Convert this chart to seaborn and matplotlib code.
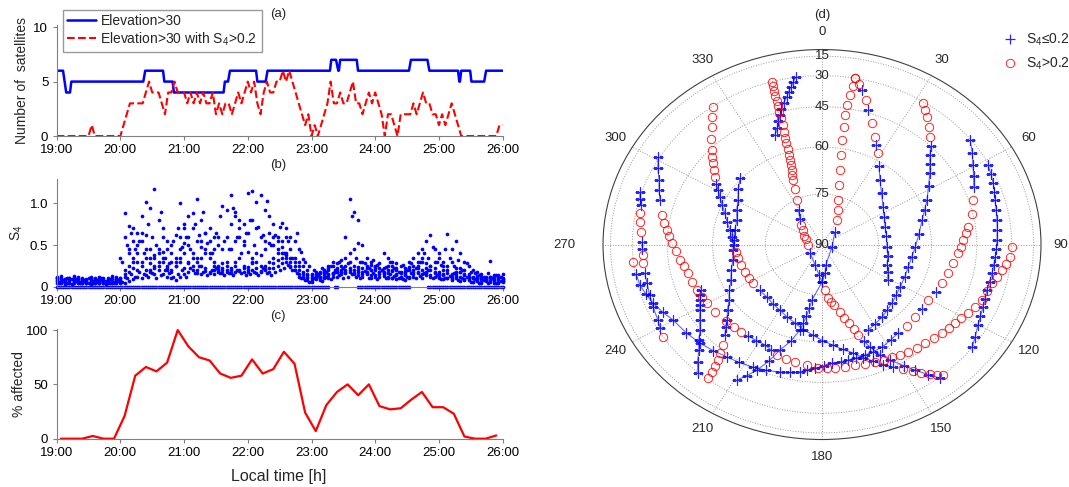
import numpy as np
import pandas as pd
import matplotlib
matplotlib.use("Agg")
import matplotlib.pyplot as plt
import seaborn as sns

sns.set_theme(style="ticks")
plt.rcParams['font.family'] = ['Liberation Sans', 'DejaVu Sans']
plt.rcParams['mathtext.fontset'] = 'custom'
plt.rcParams['mathtext.rm'] = 'Liberation Sans'
plt.rcParams['mathtext.it'] = 'Liberation Sans:italic'
plt.rcParams['mathtext.bf'] = 'Liberation Sans:bold'

BLUE = '#0000ff'
RED = '#ff0000'
nan = np.nan

# --- (a) number of satellites ---
el30_t = [19.00, 19.10, 19.15, 19.21, 19.23, 20.36, 20.39, 20.67, 20.69, 20.82,
          20.84, 21.62, 21.64, 21.69, 21.72, 22.13, 22.15, 22.28, 22.31, 23.29,
          23.31, 23.385, 23.42, 23.43, 23.45, 23.71, 23.73, 24.53, 24.56, 24.82,
          24.85, 25.30, 25.32, 25.33, 25.35, 25.49, 25.51, 25.71, 25.74, 26.00]
el30_n = [6, 6, 4, 4, 5, 5, 6, 6, 5, 5, 4, 4, 5, 5, 6, 6, 5, 5, 6, 6,
          7, 7, 6, 6, 7, 7, 6, 6, 7, 7, 6, 6, 5, 5, 6, 6, 5, 5, 6, 6]

# 3-minute samples from 19:00
s4hi_n = [0, 0, 0, 0, 0, 0, 0, 0, 0, 0,
          0, 1, 0, 0, 0, 0, 0, 0, 0, 0,
          0, 1, 2, 3, 3, 3, 3, 3, 4, 5,
          4, 4, 4, 3, 2, 4, 4, 5, 4, 4,
          4, 3, 4, 3, 4, 3, 4, 3, 3, 4,
          2, 3, 2, 3, 3, 2, 3, 4, 3, 4,
          5, 4, 5, 3, 2, 4, 5, 4, 4, 5,
          5, 6, 5, 6, 5, 4, 3, 2, 1, 2,
          0, 1, 0, 1, 2, 3, 5, 3, 3, 4,
          3, 3, 4, 5, 3, 3, 2, 3, 4, 3,
          4, 3, 2, 0, 2, 2, 1, 0, 2, 2,
          2, 2, 3, 2, 3, 4, 3, 3, 2, 2,
          1, 2, 1, 2, 3, 2, 1, 0, 0, 0,
          0, 0, 0, 0, 0, 0, 0, 0, 0, 1, 1]
s4hi_t = 19 + np.arange(len(s4hi_n)) * 3 / 60

# --- (b) S4 per satellite, 4-minute samples from 19:00 ---
s4_a = [.08, .06, .05, .07, .06, .05, .04, .05, .06, .05,
        .04, .05, .06, .05, .04, .06, .05, .07, .09, .12,
        .10, .14, .18, .22, .20, .15, .12, .10, .08, .12,
        .15, .18, .20, .17, .15, .19, .16, .15, .18, .17,
        .20, .16, .18, .19, .22, .18, .20, .16, .19, .21,
        .18, .22, .25, .28, .30, .24, .20, .15, .12, .10,
        .08, .10, .12, .15, .14, .16, .18, .15, .20, .18,
        .16, .14, .15, .17, .14, .12, .15, .13, .11, .10,
        .09, .12, .14, .10, .12, .16, .15, .18, .14, .12,
        .10, .09, .11, .08, .10, .07, .09, .08, .06, .07,
        .06, .08, .07, .05, .06, .07]
s4_b = [.12, .10, .09, .11, .13, .10, .08, .09, .12, .10,
        .09, .11, .08, .10, .12, .35, .60, .45, .30, .40,
        .55, .62, .45, .38, .30, .42, .25, .20, .30, .45,
        .52, .60, .70, .55, .48, .40, .35, .25, .20, .22,
        .30, .45, .55, .60, .50, .42, .35, .30, .38, .45,
        .52, .60, .55, .48, .40, .35, .30, .25, .18, .14,
        .12, .15, .18, .20, .22, .25, .20, .18, .35, .40,
        .25, .20, .22, .18, .20, .24, .22, .18, .16, .20,
        .22, .18, .15, .20, .25, .30, .35, .28, .20, .18,
        .15, .20, .25, .30, .22, .18, .15, .12, .10, .11,
        .09, .10, .12, .08, .10, .09]
s4_c = [.05, .04, .03, .05, .04, .06, .05, .04, .03, .05,
        .06, .05, .04, .05, .06, .10, .88, .73, .55, .65,
        .85, 1.02, .95, 1.17, .80, .60, .45, .50, .62, 1.00,
        .75, .85, .88, 1.05, .80, .65, .55, .45, .60, .97,
        .92, 1.10, .85, .80, .75, 1.12, 1.15, 1.02, 1.10, .92,
        .85, .75, .60, .76, .70, .60, .55, .45, .33, .20,
        .15, .18, .12, .20, .25, .30, .28, .32, .60, 1.05,
        .90, .80, .50, .35, .30, .25, .28, .40, .35, .30,
        .28, .25, .22, .30, .35, .40, .45, .55, .62, .45,
        .35, .30, .63, .45, .55, .40, .30, .25, .20, .18,
        .15, .12, .31, .14, .12, .15]
s4_d = [.07, .09, .06, .08, .10, .07, .09, .06, .08, .07,
        .08, .06, .07, .09, .08, .05, .20, .40, .70, .50,
        .65, .45, .35, .25, .45, .70, .55, .40, .35, .60,
        .70, .50, .40, .35, .55, .65, .70, .60, .50, .45,
        .60, .75, .90, .70, .55, .65, .80, .70, .60, .55,
        .65, .50, .40, .55, .60, .45, .35, .30, .25, .15,
        .10, .12, .08, .10, .15, .12, .18, .20, .25, .30,
        .45, .52, .30, .25, .20, .22, .18, .15, .20, .25,
        .15, .12, .18, .22, .20, .25, .30, .22, .25, .30,
        .40, .25, .20, .15, .18, .22, .20, .15, .12, .10,
        .12, .08, .10, .13, .09, .11]
s4_e = [.10, .06, .08, .05, .07, .09, .06, .08, .10, .07,
        .05, .08, .07, .06, .09, .08, .12, .25, .35, .20,
        .30, .35, .20, .15, .25, .35, .20, .30, .25, .35,
        .40, .30, .25, .20, .35, .45, .40, .30, .25, .20,
        .25, .20, .30, .35, .25, .20, .30, .40, .25, .20,
        .30, .35, .45, .40, .35, .25, .20, .12, .10, .08,
        .06, .09, .10, .13, .11, .15, .12, .18, .16, .20,
        .15, .18, .12, .15, .10, .14, .12, .16, .12, .10,
        .14, .11, .08, .12, .15, .18, .10, .14, .12, .16,
        .12, .15, .10, .09, .13, .12, .08, .10, .06, .08,
        .05, .07, .06, .08, .05, .06]
s4_g = [.10, .13, .09, .11, .08, .12, .10, .07, .11, .09,
        .12, .08, .10, .13, .09, .11, .15, .18, .22, .30,
        .25, .20, .28, .35, .40, .30, .22, .18, .25, .30,
        .22, .28, .35, .30, .25, .22, .18, .20, .24, .28,
        .18, .22, .25, .20, .18, .24, .28, .22, .18, .25,
        .22, .28, .32, .35, .38, .30, .25, .20, .15, .12,
        .14, .12, .16, .18, .20, .17, .22, .25, .18, .22,
        .20, .24, .18, .22, .26, .20, .18, .22, .25, .19,
        .20, .16, .19, .24, .18, .22, .20, .16, .25, .22,
        .18, .14, .16, .12, .15, .18, .14, .12, .10, .13,
        .11, .09, .12, .10, .14, .08]
# satellites reporting S4 = 0
s4_z = [0, 0, 0, 0, 0, 0, 0, 0, 0, 0,
        0, 0, 0, 0, 0, 0, 0, 0, 0, 0,
        0, 0, 0, 0, 0, 0, 0, 0, 0, 0,
        0, 0, 0, 0, 0, 0, 0, 0, 0, 0,
        0, 0, 0, 0, 0, 0, 0, 0, 0, 0,
        0, 0, 0, 0, 0, 0, 0, 0, 0, 0,
        0, 0, 0, 0, 0, nan, 0, nan, nan, nan,
        nan, 0, 0, 0, 0, 0, 0, 0, 0, 0,
        0, 0, 0, 0, nan, nan, nan, nan, 0, 0,
        0, 0, 0, 0, 0, 0, 0, 0, 0, 0,
        0, 0, 0, 0, 0, 0]
s4_t = 19 + np.arange(106) * 4 / 60

# same satellites' neighbours, 4-minute samples from 19:02
s4_h = [.06, .08, .05, .09, .07, .06, .08, .05, .07, .06,
        .08, .07, .05, .06, .07, .30, .50, .65, .45, .55,
        .40, .75, .60, .50, .90, .35, .28, .55, .70, .48,
        .60, .45, .75, .62, .90, .52, .40, .65, .85, .55,
        .45, .95, .60, .40, .65, .80, .50, .72, .62, 1.03,
        .50, .62, .72, .40, .55, .35, .65, .42, .30, .25,
        .20, .14, .22, .18, .25, .20, .30, .22, .28, .85,
        .35, .30, .28, .22, .32, .26, .20, .24, .30, .22,
        .18, .26, .20, .28, .22, .30, .40, .35, .48, .30,
        .26, .45, .35, .25, .32, .20, .28, .18, .16, .14,
        .12, .16, .10, .14, .12, .10]
s4_i = [.04, .07, .10, .03, .09, .04, .07, .11, .04, .08,
        .10, .03, .09, .04, .08, .06, .10, .15, .12, .18,
        .15, .12, .16, .10, .14, .20, .16, .12, .15, .20,
        .12, .22, .16, .25, .18, .14, .20, .22, .16, .14,
        .16, .14, .20, .17, .14, .15, .18, .14, .22, .16,
        .14, .18, .20, .22, .26, .20, .16, .10, .08, .06,
        .10, .15, .07, .12, .09, .18, .14, .10, .12, .15,
        .12, .10, .19, .11, .16, .09, .20, .11, .15, .13,
        .11, .09, .12, .16, .10, .13, .16, .20, .10, .14,
        .09, .11, .13, .16, .08, .10, .12, .06, .09, .05,
        .08, .05, .10, .04, .07, .09]
s4_z2 = [0, 0, 0, 0, 0, 0, 0, 0, 0, 0,
         0, 0, 0, 0, 0, 0, 0, 0, 0, 0,
         0, 0, 0, 0, 0, 0, 0, 0, 0, 0,
         0, 0, 0, 0, 0, 0, 0, 0, 0, 0,
         0, 0, 0, 0, 0, 0, 0, 0, 0, 0,
         0, 0, 0, 0, 0, 0, 0, 0, 0, 0,
         0, 0, 0, 0, nan, 0, nan, nan, nan, nan,
         nan, 0, 0, 0, 0, 0, 0, 0, 0, 0,
         0, 0, 0, nan, nan, nan, nan, 0, 0, 0,
         0, 0, 0, 0, 0, 0, 0, 0, 0, 0,
         0, 0, 0, 0, 0, nan]
s4_t2 = 19 + (2 + np.arange(106) * 4) / 60

# --- (c) percentage of satellites affected, 10-minute bins ---
pct_v = [0, 0, 0, 2.5, 0, 0, 21, 58, 66, 62, 70, 100, 85, 75, 72, 60, 56, 58, 73, 60,
         64, 80, 69, 24, 7, 31, 43, 50, 40, 50, 30, 27, 28, 36, 43, 29, 29, 23, 2, 0,
         0, 3]
pct_t = 19 + (4 + 10 * np.arange(len(pct_v))) / 60

# --- (d) sky tracks: azimuth, elevation, S4>0.2 flag ---
t1_az = [352, 351, 350, 349, 348, 346.5, 345, 344, 342.5, 341, 339]
t1_el = [30, 32.5, 35, 37, 39.3, 41.5, 44, 46.4, 48.5, 51, 53]
t1_hi = [0, 0, 0, 0, 0, 0, 0, 0, 0, 0, 0]

t2_az = [344.7, 344.6, 344.5, 344.4, 344.3, 344.1, 344.0, 343.9, 343.8, 343.4,
         343.0, 342.6, 342.3, 341.9, 341.4, 340.7, 340.0, 339.2, 338.5, 336.5,
         333.4, 329, 322, 316, 310.4, 300, 290, 267, 230, 197,
         185, 180, 177, 174.4, 172, 170, 166.7, 165, 163, 161.5,
         160.5, 159, 157.4, 155, 152.3, 149, 146.6, 144, 141.8]
t2_el = [30, 32.5, 35, 37.5, 40, 42.5, 45, 47.5, 50.4, 53,
         55, 57, 59, 61, 62.8, 64.5, 66, 67.5, 69, 72,
         75.2, 78, 80.5, 82, 83.5, 84.7, 85.5, 86.3, 86, 83.7,
         81, 78.9, 76.5, 74, 72.8, 71.5, 69.2, 67, 65, 62.7,
         60.5, 58, 55.3, 51.5, 48, 43.5, 39.5, 34.5, 29.4]
t2_hi = [1, 1, 1, 1, 1, 1, 1, 1, 1, 1,
         1, 1, 1, 1, 1, 1, 1, 1, 1, 1,
         1, 0, 0, 1, 1, 1, 1, 1, 0, 0,
         0, 0, 1, 1, 1, 1, 1, 1, 1, 1,
         1, 0, 0, 0, 0, 0, 0, 0, 0]

t3_az = [10.0, 9.8, 9.5, 9.2, 9.0, 9.3, 9.6, 10.5, 12.1, 14.5,
         17.8, 22, 28.4, 42.7, 105, 170, 174.5, 180, 189.2, 190,
         191, 192, 192.9, 196, 199.5, 202, 204.8, 207, 209.2]
t3_el = [29.9, 34.5, 38.9, 43.5, 47.8, 52.5, 57.0, 62, 67.0, 71.5,
         76.1, 79, 81.8, 85.0, 87.3, 84, 81.5, 78.9, 73.2, 70.6,
         68, 65.7, 63.3, 59, 55.0, 50, 44.8, 41, 37.3]
t3_hi = [1, 1, 1, 1, 1, 1, 1, 1, 1, 1,
         1, 1, 1, 0, 0, 0, 0, 0, 0, 0,
         0, 0, 0, 0, 0, 0, 0, 0, 0]

t4_az = [10, 11.5, 13, 15, 16.9, 20, 23.7, 26, 28.6, 33,
         38.7, 46, 55.5, 64, 72.6, 82, 92.5, 101, 109.5, 115, 121.2]
t4_el = [30, 32.8, 35.6, 39.8, 43.9, 48.5, 53, 55.5, 57.7, 61.5,
         64.9, 67.8, 70.2, 71.5, 72.4, 72.7, 72.7, 72.2, 71.6, 70.6, 69.4]
t4_hi = [1, 1, 0, 1, 0, 1, 1, 0, 1, 0,
         0, 0, 0, 0, 0, 0, 0, 0, 0, 0, 0]

t5_az = [32.4, 34.3, 36.2, 39, 41.8, 44.5, 47, 50, 53.3, 58.5,
         64.5, 69.5, 74.6, 83, 91.8, 99, 106.3, 114, 121.5, 127.5,
         133.2, 138.5, 143.6, 149, 154.4]
t5_el = [30.7, 33.2, 35.8, 39, 42.3, 45, 47.6, 50, 52.1, 55.2,
         57.9, 60, 61.7, 63.5, 64.8, 65.5, 65.8, 65.6, 65.3, 64.7,
         64, 63.3, 62.5, 61.7, 60.9]
t5_hi = [1, 1, 1, 1, 1, 0, 0, 0, 0, 0,
         0, 0, 0, 0, 0, 0, 0, 0, 0, 0,
         0, 0, 0, 0, 0]

t6_az = [51.6, 55.5, 59.4, 63, 67, 71.7, 77, 82.3, 85, 88,
         91, 94, 99, 104.2, 109.8, 115, 120.5, 126, 131.2, 137,
         142.6, 147.5, 152.5, 157, 160.9, 165, 168.6, 172, 175.7, 179,
         182.9, 186, 188.7, 192.5, 196.4, 201.5, 206.6, 212, 217, 222.5,
         227.8, 234, 240.4, 244.5, 248.8, 252.5, 256, 260, 264]
t6_el = [30.4, 33.6, 36.8, 39, 41.1, 43.4, 45.5, 47.7, 48.8, 49.9,
         50.7, 51.5, 52.6, 53.6, 54.3, 55, 55.8, 55.7, 55.6, 55.4,
         55.2, 54.4, 53.6, 53.3, 53.1, 53, 52.8, 52.6, 52.4, 51.5,
         50.6, 49.6, 48.6, 47.8, 47.0, 46.1, 45.3, 44.5, 43.8, 42.5,
         41.2, 39.8, 38.5, 36.3, 34.1, 32.5, 31, 30.4, 29.8]
t6_hi = [0, 0, 0, 0, 0, 1, 1, 1, 1, 1,
         1, 1, 1, 1, 1, 0, 1, 0, 1, 1,
         0, 0, 0, 0, 0, 0, 0, 0, 0, 0,
         0, 0, 0, 0, 0, 0, 0, 0, 0, 0,
         0, 0, 0, 0, 0, 0, 0, 0, 1]

t7_az = [61.7, 65, 68, 71, 73.9, 77.5, 81, 84.7, 88.4, 91.5,
         94.6, 97.6, 100.7, 104, 107.2, 110.4, 113.6, 117, 120.1, 124, 127.5]
t7_el = [30.6, 31.6, 32.6, 33.6, 34.7, 35.4, 36.0, 36.5, 36.9, 37.2,
         37.5, 37.7, 37.8, 37.9, 38.0, 37.4, 36.7, 35.7, 34.6, 32.4, 30.2]
t7_hi = [0, 0, 0, 0, 0, 0, 0, 0, 0, 0,
         0, 0, 0, 0, 0, 0, 0, 0, 0, 0, 0]

t8_az = [90.9, 94.3, 96.7, 99.1, 101.7, 104.2, 107.7, 111.3, 114.5, 117.8,
         120.7, 123.6, 126.6, 129.6, 133.3, 137.1, 140.8, 144.5, 147.7, 151.0,
         154.5, 158.1, 162.2, 166.3, 170.5, 174.7, 178.1, 181.6, 186.5, 191.5,
         195.7, 199.9, 203.3, 206.8, 211.3, 215.8, 219.6, 223.5, 228.3, 234.7,
         240.3, 244, 247.8, 252.2, 256.6, 260, 263.0, 267, 270.7, 273.4,
         276.0, 278.8, 281.7, 287.1, 290.5, 294.0, 297.5, 301.0]
t8_el = [29.8, 30.6, 32.2, 33.7, 35.3, 36.8, 37.6, 38.4, 39.8, 41.1,
         42.2, 43.2, 43.9, 44.6, 45.5, 46.4, 46.9, 47.4, 48.0, 48.7,
         49.1, 49.5, 50.0, 50.5, 50.5, 50.5, 50.6, 50.7, 51.4, 52.0,
         52.5, 52.9, 53.9, 54.8, 54.8, 54.7, 54.6, 54.4, 54.0, 53.2,
         52.8, 52.3, 51.9, 51.5, 51.0, 50.1, 49.2, 48, 46.8, 45.7,
         44.6, 43.2, 41.7, 39.3, 37.4, 35.5, 32.3, 29.2]
t8_hi = [1, 1, 1, 1, 1, 1, 1, 1, 1, 1,
         1, 1, 1, 1, 1, 1, 1, 1, 1, 1,
         1, 1, 1, 1, 1, 1, 1, 1, 1, 1,
         1, 1, 0, 0, 0, 0, 1, 1, 1, 1,
         1, 1, 1, 1, 1, 1, 1, 1, 1, 1,
         1, 1, 1, 0, 0, 0, 0, 0]

t9_az = [324.8, 322.5, 320.1, 317, 314, 312, 310, 307.7, 305.3, 302.9,
         300.4, 297.6, 294, 290.1, 285, 280, 275, 269.6, 264.7, 259.8,
         254, 248.2, 243, 238, 230.5, 223, 216.4, 209.7, 203.4, 197,
         191, 185, 179.8, 174.5, 170.1, 165.7, 162.2, 158.7, 155.7, 152.7,
         150, 147.3, 145.4, 143.4, 141.9, 140.4]
t9_el = [30.3, 34.2, 38.2, 42, 45.7, 47.6, 49.5, 51.3, 53.2, 54.9,
         56.6, 58.3, 60, 61.8, 63.3, 64.7, 65.5, 66.3, 66.7, 67,
         67.4, 67.7, 68, 68.2, 68.3, 68.4, 67.8, 67.2, 66.2, 65.1,
         63.6, 62.2, 60.5, 58.8, 56.9, 55.0, 52.5, 50.1, 47.5, 45.0,
         42.3, 39.6, 36.9, 34.2, 32, 29.8]
t9_hi = [1, 1, 1, 1, 1, 1, 1, 1, 1, 0,
         0, 0, 0, 0, 0, 0, 0, 0, 1, 1,
         1, 1, 1, 1, 0, 0, 0, 0, 0, 0,
         0, 0, 0, 0, 0, 0, 0, 0, 0, 0,
         1, 1, 1, 1, 1, 1]

t10_az = [287.9, 285.8, 283.8, 280.9, 277.9, 274.4, 270.9, 268.5, 266.2, 263.4,
          259.8, 256.1, 251.8, 247.4, 242.7, 240.0, 236.9]
t10_el = [29.1, 30.4, 31.7, 32.3, 33.0, 34.0, 34.7, 34.9, 35.0, 34.6,
          34.6, 34.6, 34.0, 33.3, 32.5, 31.2, 29.9]
t10_hi = [0, 0, 0, 1, 1, 1, 0, 0, 1, 1, 0, 0, 0, 0, 0, 0, 1]

t11_az = [247.2, 245, 243, 241, 238.9, 235.3, 231.8, 229, 226.1, 223.4, 220.7]
t11_el = [53.1, 52.2, 51.3, 50.4, 49.4, 47.2, 44.9, 41.8, 38.7, 34.2, 29.7]
t11_hi = [0, 0, 0, 0, 0, 0, 0, 0, 0, 0, 0]

t12_az = [312.4, 306.5, 300.7, 294.3, 288.0, 280.6, 273.3, 266, 259.0, 252.7,
          246.4, 241.3, 236.2, 232.2, 228.3, 226, 223.7, 221.3, 220, 218.7,
          218.1, 217.5, 217.3]
t12_el = [59.6, 61.6, 63.5, 64.7, 65.9, 66.1, 66.2, 65.9, 65.5, 64.3,
          63.0, 61.2, 59.3, 56.9, 54.5, 52.3, 50.1, 46.8, 43.7, 40.6,
          37.5, 34.5, 30.7]
t12_hi = [0, 0, 0, 0, 0, 0, 0, 0, 0, 0,
          0, 0, 0, 0, 0, 0, 0, 1, 1, 1, 1, 1, 1]

hours = [19, 20, 21, 22, 23, 24, 25, 26]
hour_labels = [f"{h}:00" for h in hours]
el_rings = [15, 30, 45, 60, 75, 90]
az_ticks = list(range(0, 360, 30))

# ---------------------------------------------------------------
fig = plt.figure(figsize=(10.69, 4.87), dpi=100)
ax_a = fig.add_axes([0.0530, 0.7207, 0.4172, 0.2280])
ax_b = fig.add_axes([0.0530, 0.4113, 0.4172, 0.2205])
ax_c = fig.add_axes([0.0530, 0.0992, 0.4172, 0.2253])
ax_d = fig.add_axes([0.5641, 0.0975, 0.4097, 0.8008], projection='polar')


def style_time_axis(ax):
    ax.set_xlim(19, 26)
    ax.set_xticks(hours)
    ax.set_xticklabels(hour_labels)
    for s in ['top', 'right']:
        ax.spines[s].set_visible(False)
    for s in ['left', 'bottom']:
        ax.spines[s].set_color('#808080')
        ax.spines[s].set_linewidth(0.8)
    ax.tick_params(colors='#808080', labelcolor='black', labelsize=9.5,
                   length=3, width=0.8, direction='out', pad=3)
    ax.grid(False)
    ax.set_xlabel('')


# (a)
sns.lineplot(x=el30_t, y=el30_n, ax=ax_a, color=BLUE, lw=1.8, label='Elevation>30')
sns.lineplot(x=s4hi_t, y=s4hi_n, ax=ax_a, color=RED, lw=1.5, linestyle='--',
             label='Elevation>30 with S$_4$>0.2')
style_time_axis(ax_a)
ax_a.set_ylim(0, 10.2)
ax_a.set_yticks([0, 5, 10])
ax_a.set_ylabel('Number of  satellites', fontsize=10)
ax_a.yaxis.set_label_coords(-0.062, 0.5)
ax_a.legend(loc='upper left', bbox_to_anchor=(0.014, 1.135), frameon=True,
            fancybox=False, edgecolor='#808080', fontsize=10, handlelength=2.1,
            handletextpad=0.3, borderpad=0.3, labelspacing=0.15, borderaxespad=0)

# (b)
df_b1 = pd.DataFrame({'t': s4_t, 'A': s4_a, 'B': s4_b, 'C': s4_c, 'D': s4_d,
                      'E': s4_e, 'G': s4_g, 'Z': s4_z})
df_b2 = pd.DataFrame({'t': s4_t2, 'H': s4_h, 'I': s4_i, 'Z2': s4_z2})
df_b = pd.concat([df_b1.melt(id_vars='t', var_name='sat', value_name='s4'),
                  df_b2.melt(id_vars='t', var_name='sat', value_name='s4')]).dropna()
df_b = df_b[df_b['t'] <= 26]
sns.scatterplot(data=df_b, x='t', y='s4', ax=ax_b, color=BLUE, s=7,
                linewidth=0, legend=False, clip_on=False)
style_time_axis(ax_b)
ax_b.set_ylim(0, 1.29)
ax_b.set_yticks([0, 0.5, 1.0])
ax_b.set_yticklabels(['0', '0.5', '1.0'])
ax_b.set_ylabel('S$_4$', fontsize=10)
ax_b.yaxis.set_label_coords(-0.07, 0.5)

# (c)
sns.lineplot(x=pct_t, y=pct_v, ax=ax_c, color=RED, lw=1.6)
style_time_axis(ax_c)
ax_c.set_ylim(0, 101)
ax_c.set_yticks([0, 50, 100])
ax_c.set_ylabel('% affected', fontsize=10)
ax_c.yaxis.set_label_coords(-0.069, 0.5)
ax_c.set_xlabel('Local time [h]', fontsize=11.5)
ax_c.xaxis.label.set_verticalalignment('center')
ax_c.xaxis.set_label_coords(0.497, -0.346)

# (d)
tracks = [(t1_az, t1_el, t1_hi), (t2_az, t2_el, t2_hi), (t3_az, t3_el, t3_hi),
          (t4_az, t4_el, t4_hi), (t5_az, t5_el, t5_hi), (t6_az, t6_el, t6_hi),
          (t7_az, t7_el, t7_hi), (t8_az, t8_el, t8_hi), (t9_az, t9_el, t9_hi),
          (t10_az, t10_el, t10_hi), (t11_az, t11_el, t11_hi), (t12_az, t12_el, t12_hi)]
sky = pd.concat([pd.DataFrame({'az': a, 'el': e, 'hi': h, 'trk': i})
                 for i, (a, e, h) in enumerate(tracks)], ignore_index=True)
sky['theta'] = np.radians(sky['az'])
sky['r'] = np.cos(np.radians(sky['el']))
# runs of consecutive samples with the same S4 class along each track
sky['run'] = ((sky['hi'] != sky['hi'].shift()) | (sky['trk'] != sky['trk'].shift())).cumsum()
lo = sky[sky['hi'] == 0]
hi = sky[sky['hi'] == 1]

ax_d.set_theta_zero_location('N')
ax_d.set_theta_direction(-1)
ax_d.set_facecolor('white')
for _, run in lo.groupby('run'):
    ax_d.plot(run['theta'], run['r'], color=BLUE, lw=0.8, alpha=0.6)
h_lo, = ax_d.plot(lo['theta'], lo['r'], linestyle='none', marker='+', ms=7,
                  mew=0.9, color=BLUE, alpha=0.85, label='S$_4$≤0.2')
h_hi, = ax_d.plot(hi['theta'], hi['r'], linestyle='none', marker='o', ms=6,
                  mew=0.7, mfc='none', mec=RED, alpha=0.85, label='S$_4$>0.2')
ax_d.set_aspect('auto')
ax_d.set_ylim(0, 1)
ax_d.set_yticks(np.cos(np.radians(el_rings[:-1])))
ax_d.set_yticklabels([])
ax_d.set_xticks(np.radians(az_ticks))
ax_d.set_xticklabels([])
ax_d.grid(True, color='#9a9a9a', linestyle=':', linewidth=0.7)
ax_d.spines['polar'].set_color('#404040')
ax_d.spines['polar'].set_linewidth(0.8)
# azimuth labels just outside the rim, elevation labels along the 0 deg spoke
for a in az_ticks:
    r_lab = 1.178 if a == 270 else 1.09
    ax_d.text(np.radians(a), r_lab, str(a), ha='center', va='center',
              fontsize=9.5, clip_on=False)
for e in el_rings:
    ax_d.text(0, np.cos(np.radians(e)), str(e), ha='center', va='center', fontsize=9.5)

fig.legend(handles=[h_lo, h_hi], loc='upper right', bbox_to_anchor=(1.0065, 0.947),
           frameon=False, fontsize=10, handletextpad=0.6, labelspacing=0.6,
           handlelength=1.2, borderaxespad=0)

# panel tags
fig.text(0.260, 1 - 14 / 487, '(a)', ha='center', va='center', fontsize=9.5)
fig.text(0.260, 1 - 165 / 487, '(b)', ha='center', va='center', fontsize=9.5)
fig.text(0.260, 1 - 316 / 487, '(c)', ha='center', va='center', fontsize=9.5)
fig.text(0.769, 1 - 15 / 487, '(d)', ha='center', va='center', fontsize=9.5)

fig.savefig('out.png', dpi=100)
